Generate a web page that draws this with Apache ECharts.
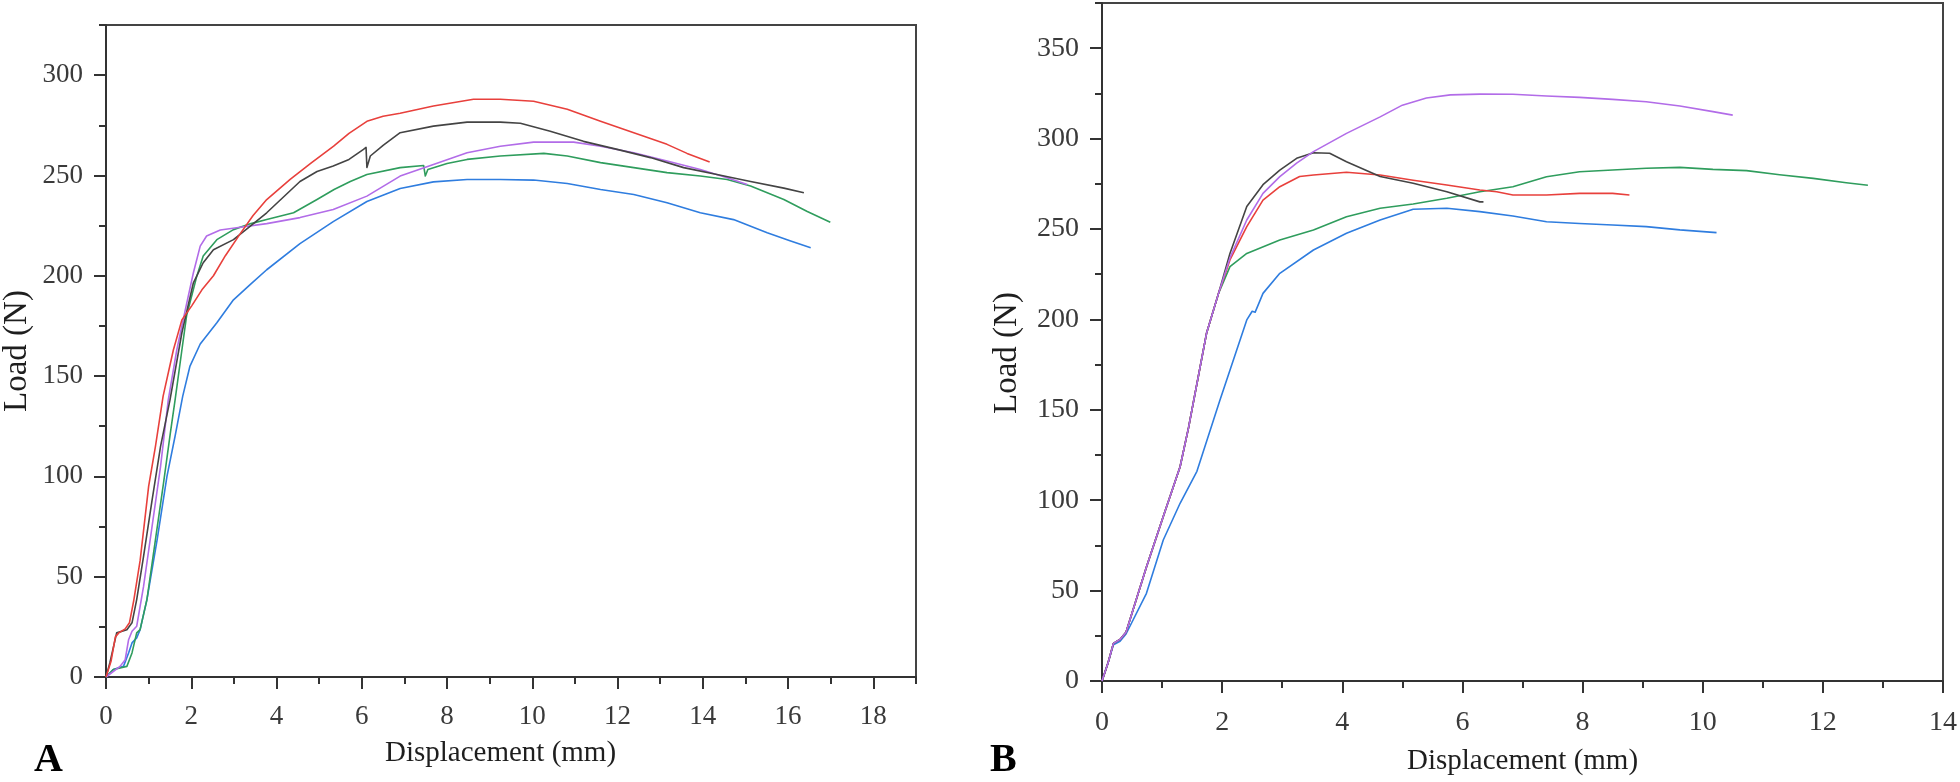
<!DOCTYPE html>
<html>
<head>
<meta charset="utf-8">
<script src="https://cdn.jsdelivr.net/npm/echarts@6/dist/echarts.min.js"></script>
<style>
html,body{margin:0;padding:0;background:#fff;}
#chart{width:1960px;height:782px;}
</style>
</head>
<body>
<div id="chart"></div>
<script>
// ---------- Panel A data (Displacement mm, Load N) ----------
const A_red = [[0,0],[0.12,8],[0.22,20],[0.3,22],[0.45,24],[0.55,27],[0.65,38],[0.8,58],[1.0,95],[1.16,115],[1.34,140],[1.58,163],[1.78,178],[2.01,185],[2.25,193],[2.52,200],[2.8,210],[3.15,221],[3.45,230],[3.77,238],[4.32,248],[4.8,256],[5.34,264.6],[5.7,271],[6.12,277],[6.5,279.5],[6.9,281],[7.68,284.6],[8.62,288],[9.25,288],[10.03,287],[10.82,283],[11.6,277],[12.38,271.3],[13.16,265.5],[13.63,261],[14.16,256.7]];
const A_black = [[0,0],[0.09,7],[0.25,22],[0.49,23.6],[0.61,27],[0.72,38.6],[0.88,60],[1.08,88],[1.28,115],[1.5,138],[1.78,171.6],[2.05,196.5],[2.28,206.5],[2.52,213],[2.99,218],[3.4,225],[3.77,231.4],[4.2,240],[4.55,247],[4.95,252],[5.33,254.7],[5.7,258],[6.04,263],[6.1,264],[6.12,254],[6.2,259.7],[6.5,265],[6.9,271.3],[7.68,274.6],[8.47,276.6],[9.25,276.6],[9.72,276],[10.42,272],[11.2,267],[11.99,263],[12.77,258.9],[13.55,253.9],[14.33,250.5],[15.12,247],[15.9,243.7],[16.37,241.4]];
const A_green = [[0,0],[0.17,3.7],[0.49,5.3],[0.61,12],[0.72,22],[0.8,23.6],[0.96,38.6],[1.16,68.5],[1.35,96.8],[1.51,121.7],[1.62,138],[1.78,163],[1.89,180],[2.13,199.8],[2.28,209.8],[2.6,218],[2.99,223],[3.4,226],[3.77,228],[4.4,231.4],[4.95,238],[5.35,243],[5.73,247],[6.12,250.5],[6.9,253.9],[7.45,255],[7.49,249.7],[7.55,253],[8.0,256],[8.47,258],[9.25,259.7],[10.27,261],[10.82,259.7],[11.6,256.4],[12.38,253.9],[13.16,251.4],[13.94,249.7],[14.57,248],[15.12,244.7],[15.9,238],[16.45,232],[16.99,226.7]];
const A_purple = [[0,0],[0.33,5.3],[0.45,8.6],[0.53,18.6],[0.61,22.8],[0.72,25.3],[0.88,45],[1.08,75],[1.28,105],[1.46,138],[1.66,163],[1.86,183],[2.05,201.5],[2.21,214.8],[2.36,219.8],[2.68,222.8],[3.15,224.2],[3.77,226],[4.55,229],[5.33,233],[6.12,239.7],[6.9,249.7],[7.68,255.5],[8.47,261.3],[9.25,264.6],[10.03,266.6],[10.97,266.6],[11.6,264.6],[12.38,261.3],[13.16,257.2],[13.94,253],[14.57,248.9],[15.04,245.5]];
const A_blue = [[0,0],[0.17,3.7],[0.41,5.3],[0.53,12],[0.61,17],[0.72,19.5],[0.8,23.6],[0.96,38.6],[1.2,68.5],[1.43,100],[1.62,120],[1.8,140],[1.97,155],[2.21,166],[2.6,176.6],[2.99,188],[3.4,196],[3.77,203],[4.55,216],[5.33,227],[6.12,237],[6.9,243.5],[7.68,246.8],[8.47,248],[9.25,248],[10.03,247.7],[10.82,246],[11.6,243],[12.38,240.5],[13.16,236.4],[13.94,231.4],[14.72,228],[15.51,221.4],[16.06,217.3],[16.53,214]];

// ---------- Panel B data ----------
const B_start = [[0,0],[0.1,10],[0.19,20.8],[0.3,23],[0.4,27],[0.74,63],[1.02,91],[1.3,118.5],[1.44,140],[1.74,192.3],[1.94,214.4]];
const B_red = [[2.13,232.9],[2.41,251.3],[2.68,266],[2.96,273.4],[3.29,279],[3.52,279.9],[4.07,281.4],[4.63,279.9],[5.18,277],[5.74,274.3],[6.29,271.6],[6.57,270.6],[6.84,268.8],[7.4,268.8],[7.95,269.7],[8.5,269.7],[8.78,268.8]];
const B_black = [[2.13,236.5],[2.41,262.5],[2.68,274.5],[2.96,282.6],[3.24,289.1],[3.52,292.2],[3.79,291.9],[4.07,287.2],[4.63,279],[5.18,275.3],[5.74,270.6],[6.29,265],[6.35,265]];
const B_purple = [[2.13,234],[2.41,255],[2.68,269.7],[2.96,279],[3.24,286.4],[3.52,292.8],[4.07,302.9],[4.63,312],[5.0,318.5],[5.4,322.5],[5.8,324.2],[6.29,324.6],[6.84,324.5],[7.4,323.6],[7.95,322.8],[8.5,321.7],[9.06,320.4],[9.62,318],[10.17,314.9],[10.5,313]];
const B_green = [[2.13,229.2],[2.41,236.5],[2.96,243.9],[3.52,249.4],[4.07,256.8],[4.63,261.5],[5.18,263.8],[5.74,267],[6.29,270.6],[6.84,273.4],[7.4,278.9],[7.95,281.7],[8.5,282.6],[9.06,283.6],[9.62,284.1],[10.17,283],[10.73,282.3],[11.28,280],[11.84,278],[12.39,275.6],[12.75,274.2]];
const B_blue = [[0,0],[0.1,10],[0.19,20],[0.3,22],[0.4,26],[0.74,48.5],[1.02,78],[1.3,98.3],[1.58,116],[1.96,155],[2.41,199.7],[2.5,204.5],[2.55,204],[2.68,214.4],[2.96,225.5],[3.52,238.4],[4.07,247.6],[4.63,255],[5.18,260.9],[5.74,261.5],[6.29,259.6],[6.84,257.2],[7.4,254],[7.95,253],[8.5,252.2],[9.06,251.3],[9.62,249.5],[10.23,248]];

// ---------- Tick values ----------
const A_xMajor = [0,2,4,6,8,10,12,14,16,18];
const A_xMinor = [1,3,5,7,9,11,13,15,17,19];
const A_yMajor = [0,50,100,150,200,250,300];
const A_yMinor = [25,75,125,175,225,275,325];
const B_xMajor = [0,2,4,6,8,10,12,14];
const B_xMinor = [1,3,5,7,9,11,13];
const B_yMajor = [0,50,100,150,200,250,300,350];
const B_yMinor = [25,75,125,175,225,275,325,375];

const COLORS = {red:'#e8403c', black:'#444444', green:'#2f9d5d', purple:'#b26ce8', blue:'#2f7ddf'};
const SERIF = "'Liberation Serif','Times New Roman',serif";
const LABEL_COLOR = '#3a3a3a';
const TITLE_COLOR = '#1e1e1e';
const AXIS_COLOR = '#333333';

function majorX(grid, max, ticks, labelSize, margin, gap, padRight) {
  return {
    type:'value', gridIndex:grid, min:0, max:max, position:'bottom',
    axisLine:{show:true, onZero:false, lineStyle:{color:AXIS_COLOR, width:2}},
    axisTick:{show:true, inside:false, length:12, lineStyle:{color:AXIS_COLOR, width:2}, customValues:ticks},
    axisLabel:{show:true, margin:margin, fontFamily:SERIF, fontSize:labelSize, color:LABEL_COLOR, customValues:ticks},
    splitLine:{show:false},
    name:'Displacement (mm)', nameLocation:'middle', nameGap:gap,
    nameTextStyle:{fontFamily:SERIF, fontSize:29, color:TITLE_COLOR, padding:[0,padRight,0,0]}
  };
}
function minorX(grid, max, ticks) {
  return {
    type:'value', gridIndex:grid, min:0, max:max, position:'bottom',
    axisLine:{show:false, onZero:false},
    axisTick:{show:true, inside:false, length:7, lineStyle:{color:AXIS_COLOR, width:2}, customValues:ticks},
    axisLabel:{show:false}, splitLine:{show:false}
  };
}
function majorY(grid, max, ticks, labelSize, gap, padRight) {
  return {
    type:'value', gridIndex:grid, min:0, max:max, position:'left',
    axisLine:{show:true, onZero:false, lineStyle:{color:AXIS_COLOR, width:2}},
    axisTick:{show:true, inside:false, length:12, lineStyle:{color:AXIS_COLOR, width:2}, customValues:ticks},
    axisLabel:{show:true, margin:23, fontFamily:SERIF, fontSize:labelSize, color:LABEL_COLOR, customValues:ticks},
    splitLine:{show:false},
    name:'Load (N)', nameLocation:'middle', nameGap:gap, nameRotate:90,
    nameTextStyle:{fontFamily:SERIF, fontSize:33, color:TITLE_COLOR, padding:[0,padRight,0,0]}
  };
}
function minorY(grid, max, ticks) {
  return {
    type:'value', gridIndex:grid, min:0, max:max, position:'left',
    axisLine:{show:false, onZero:false},
    axisTick:{show:true, inside:false, length:7, lineStyle:{color:AXIS_COLOR, width:2}, customValues:ticks},
    axisLabel:{show:false}, splitLine:{show:false}
  };
}
function line(data, color, xi, yi) {
  return {type:'line', data:data, xAxisIndex:xi, yAxisIndex:yi, showSymbol:false, symbol:'none',
    smooth:false,
    lineStyle:{color:color, width:1.6, join:'round'}, itemStyle:{color:color}, animation:false, silent:true};
}

const chart = echarts.init(document.getElementById('chart'), null, {renderer:'canvas'});
chart.setOption({
  backgroundColor:'#ffffff',
  animation:false,
  grid:[
    {left:106, top:25, width:810, height:652, show:true, borderColor:'#444', borderWidth:2, containLabel:false},
    {left:1102, top:3, width:841, height:678, show:true, borderColor:'#444', borderWidth:2, containLabel:false}
  ],
  xAxis:[
    majorX(0, 19, A_xMajor, 27, 26, 62, 21),
    minorX(0, 19, A_xMinor),
    majorX(1, 14, B_xMajor, 28, 28, 66, 0),
    minorX(1, 14, B_xMinor)
  ],
  yAxis:[
    majorY(0, 325, A_yMajor, 27, 72, 0),
    minorY(0, 325, A_yMinor),
    majorY(1, 375, B_yMajor, 28, 78, 22),
    minorY(1, 375, B_yMinor)
  ],
  series:[
    line(A_blue, COLORS.blue, 0, 0),
    line(A_green, COLORS.green, 0, 0),
    line(A_purple, COLORS.purple, 0, 0),
    line(A_black, COLORS.black, 0, 0),
    line(A_red, COLORS.red, 0, 0),
    line(B_blue, COLORS.blue, 2, 2),
    line(B_start.concat(B_green), COLORS.green, 2, 2),
    line(B_start.concat(B_red), COLORS.red, 2, 2),
    line(B_start.concat(B_black), COLORS.black, 2, 2),
    line(B_start.concat(B_purple), COLORS.purple, 2, 2)
  ],
  graphic:[
    {type:'text', left:34, top:741, style:{text:'A', font:"bold 40px 'Liberation Serif','Times New Roman',serif", fill:'#000'}},
    {type:'text', left:990, top:741, style:{text:'B', font:"bold 40px 'Liberation Serif','Times New Roman',serif", fill:'#000'}}
  ]
});
</script>
</body>
</html>
